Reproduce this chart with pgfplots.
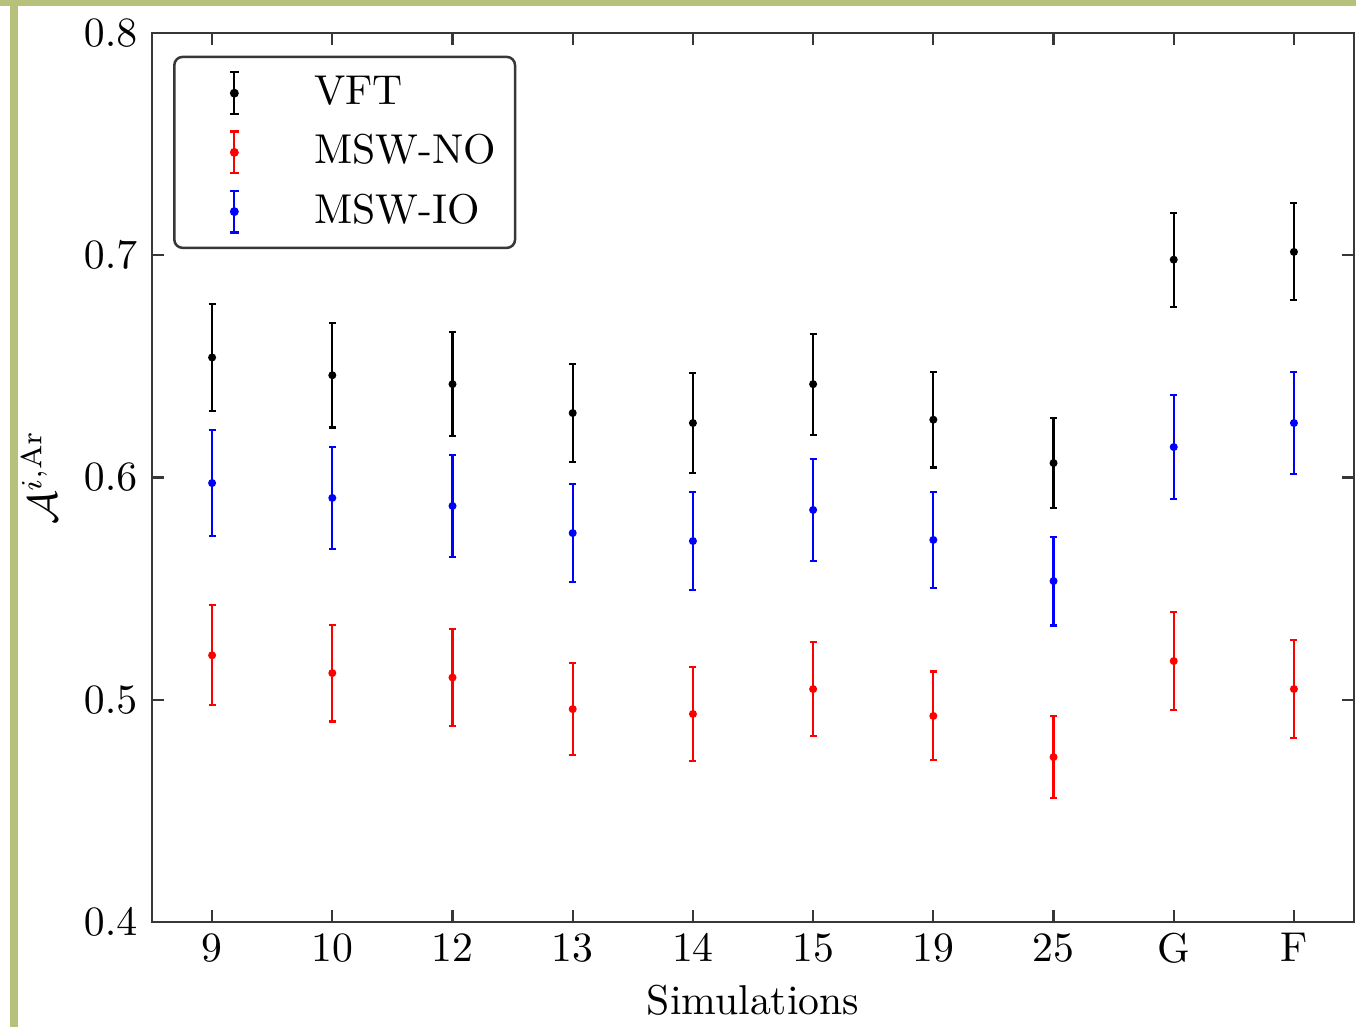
\documentclass[border=0pt]{standalone}
\usepackage{pgfplots}
\pgfplotsset{compat=1.18}
\definecolor{frameolive}{RGB}{183,193,124}
\definecolor{axisgray}{RGB}{55,55,55}
\newcommand{\errlegimg}[1]{%
  \path[draw=none, fill=none] (-11.9pt,-7.1pt) rectangle (6pt,7.1pt);
  \draw[#1, line width=0.5pt, sharp corners] (0pt,-5pt) -- (0pt,5pt);
  \draw[#1, line width=0.5pt, sharp corners] (-1pt,-5pt) -- (1pt,-5pt) (-1pt,5pt) -- (1pt,5pt);
  \fill[#1] (0pt,0pt) circle (0.75pt);
}
\pgfplotstableread{
x y e
0 0.654 0.024
1 0.646 0.0235
2 0.642 0.0235
3 0.629 0.022
4 0.6245 0.0225
5 0.642 0.0227
6 0.626 0.0215
7 0.6065 0.0203
8 0.698 0.0212
9 0.7015 0.0218
}\vft
\pgfplotstableread{
x y e
0 0.520 0.0225
1 0.512 0.0218
2 0.510 0.0218
3 0.4958 0.0207
4 0.4936 0.021
5 0.5048 0.021
6 0.4927 0.020
7 0.4742 0.0183
8 0.5174 0.022
9 0.5048 0.0222
}\mswno
\pgfplotstableread{
x y e
0 0.5975 0.024
1 0.5908 0.023
2 0.5872 0.023
3 0.575 0.022
4 0.5714 0.022
5 0.5854 0.023
6 0.5719 0.0216
7 0.5534 0.020
8 0.6137 0.0234
9 0.6245 0.023
}\mswio
\begin{document}
\begin{tikzpicture}
\begin{axis}[
  at={(0pt,0pt)}, anchor=south west,
  scale only axis, width=288.25pt, height=213.19pt,
  xmin=-0.5, xmax=9.5, ymin=0.4, ymax=0.8,
  xtick={0,...,9}, xticklabels={9,10,12,13,14,15,19,25,G,F},
  ytick={0.4,0.5,0.6,0.7,0.8},
  tick align=inside, major tick length=2.9pt, minor tick num=0,
  axis line style={axisgray, line width=0.5pt},
  every tick/.style={axisgray, line width=0.5pt},
  y tick label style={/pgf/number format/.cd, fixed, fixed zerofill, precision=1, /tikz/.cd},
  x tick label style={yshift=0.8pt},
  xlabel={Simulations}, ylabel={$\mathcal{A}^{i,\mathrm{Ar}}$},
  xlabel style={at={(axis description cs:0.5,-0.0877)}, anchor=center},
  ylabel style={at={(axis description cs:-0.094,0.5)}, anchor=center},
  legend style={at={(axis description cs:0.0175,0.9745)}, anchor=north west,
    draw=axisgray, line width=0.6pt, rounded corners=2pt,
    inner xsep=2.5pt, inner ysep=1.6pt, row sep=0pt, column sep=11.2pt},
  legend cell align=left,
]
\addplot[black, only marks, mark=*, mark size=0.75pt,
  error bars/.cd, y dir=both, y explicit,
  error bar style={line width=0.5pt},
  error mark options={rotate=90, mark size=0.85pt, line width=0.5pt},
  /pgfplots/legend image code/.code={\errlegimg{black}}]
  table[x=x, y=y, y error=e] {\vft};
\addlegendentry{VFT}
\addplot[red, only marks, mark=*, mark size=0.75pt,
  error bars/.cd, y dir=both, y explicit,
  error bar style={line width=0.5pt},
  error mark options={rotate=90, mark size=0.85pt, line width=0.5pt},
  /pgfplots/legend image code/.code={\errlegimg{red}}]
  table[x=x, y=y, y error=e] {\mswno};
\addlegendentry{MSW-NO}
\addplot[blue, only marks, mark=*, mark size=0.75pt,
  error bars/.cd, y dir=both, y explicit,
  error bar style={line width=0.5pt},
  error mark options={rotate=90, mark size=0.85pt, line width=0.5pt},
  /pgfplots/legend image code/.code={\errlegimg{blue}}]
  table[x=x, y=y, y error=e] {\mswio};
\addlegendentry{MSW-IO}
\end{axis}
\pgfresetboundingbox
\begin{scope}[x=0.23981pt,y=0.23981pt]
  \path[use as bounding box] (-152,-105) rectangle (1204,922);
  \fill[frameolive] (-142,-105) rectangle (-133.7,922);
  \fill[frameolive] (-152,916.3) rectangle (1204,922);
\end{scope}
\end{tikzpicture}
\end{document}
